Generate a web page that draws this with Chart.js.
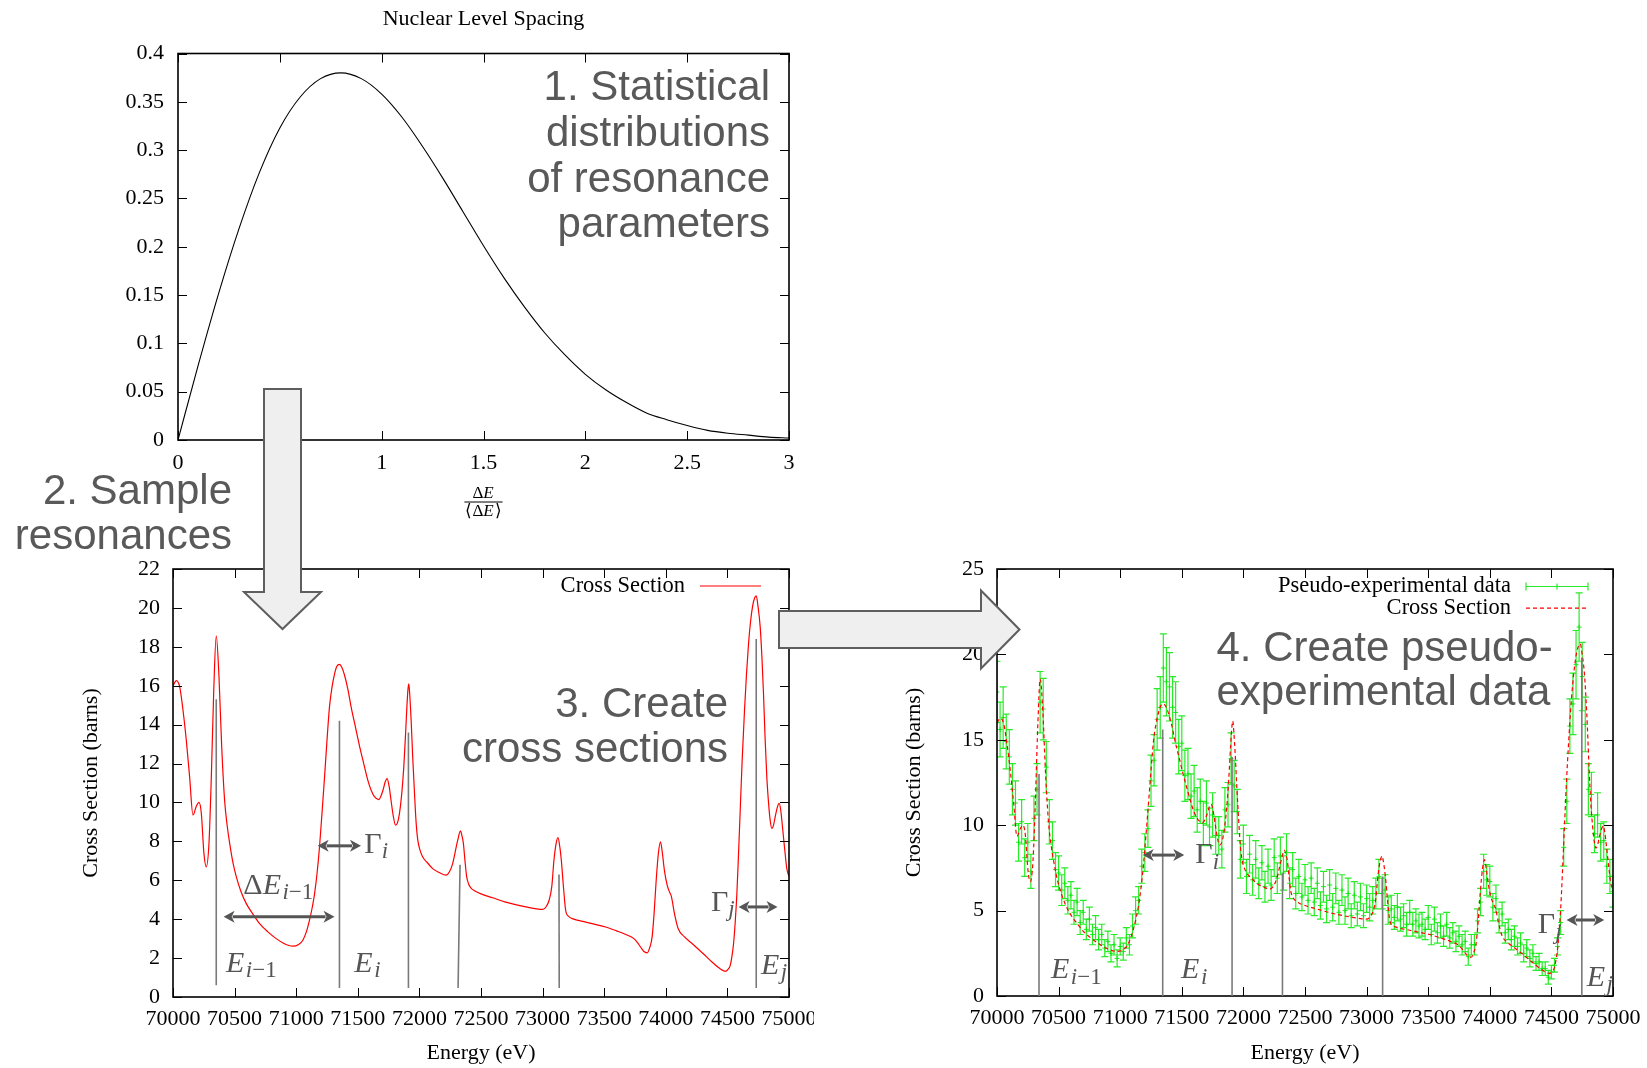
<!DOCTYPE html>
<html>
<head>
<meta charset="utf-8">
<title>Resonance sampling workflow</title>
<script src="https://cdn.jsdelivr.net/npm/chart.js@4.4.1/dist/chart.umd.min.js"></script>
<style>
  html, body { margin: 0; padding: 0; background: #fff; }
  body { position: relative; width: 1647px; height: 1068px; overflow: hidden; }
  canvas { position: absolute; }
  #overlay { position: absolute; left: 0; top: 0; pointer-events: none; }
</style>
</head>
<body>
<canvas id="spacing" width="720" height="520" style="left:100px;top:0"></canvas>
<canvas id="xsec" width="774" height="528" style="left:40px;top:540px"></canvas>
<canvas id="pseudo" width="767" height="528" style="left:880px;top:540px"></canvas>

<svg id="overlay" width="1647" height="1068" xmlns="http://www.w3.org/2000/svg">
  <g fill="#efefef" stroke="#5e5e5e" stroke-width="2" stroke-linejoin="miter">
    <polygon points="264,389 301,389 301,592 321,592 282.5,629 244,592 264,592"/>
    <polygon points="779,611 981,611 981,590.5 1019.5,629.5 981,668.5 981,648 779,648"/>
  </g>
  <g font-family="'Liberation Sans', Arial, sans-serif" font-size="42" fill="#595959">
    <text x="770" y="100" text-anchor="end">1. Statistical</text>
    <text x="770" y="146" text-anchor="end">distributions</text>
    <text x="770" y="191.5" text-anchor="end">of resonance</text>
    <text x="770" y="237" text-anchor="end">parameters</text>
    <text x="232" y="504" text-anchor="end">2. Sample</text>
    <text x="232" y="548.5" text-anchor="end">resonances</text>
    <text x="728" y="716.5" text-anchor="end">3. Create</text>
    <text x="728" y="761.5" text-anchor="end">cross sections</text>
    <text x="1216.5" y="660.5">4. Create pseudo-</text>
    <text x="1216.5" y="705">experimental data</text>
  </g>
</svg>

<script>
// ---- panel 1: nuclear level spacing distribution ----
const spacingX = [0, 0.1, 0.2, 0.3, 0.4, 0.5, 0.6, 0.7, 0.8, 0.9, 1.0,
  1.1, 1.2, 1.3, 1.4, 1.5, 1.6, 1.7, 1.8, 1.9, 2.0,
  2.1, 2.2, 2.3, 2.4, 2.5, 2.6, 2.7, 2.8, 2.9, 3.0];
const spacingP = [0, 0.078, 0.152, 0.219, 0.277, 0.323, 0.355, 0.374, 0.380, 0.374, 0.358,
  0.334, 0.304, 0.271, 0.236, 0.201, 0.168, 0.138, 0.111, 0.088, 0.068,
  0.052, 0.039, 0.028, 0.021, 0.015, 0.010, 0.007, 0.005, 0.003, 0.002];

// ---- panel 3: cross section (eV, barns) ----
const xsEnergy = [
  70000, 70027, 70054, 70081, 70108, 70135, 70162, 70189, 70211, 70230,
  70251, 70270, 70292, 70311, 70330, 70351, 70373, 70395, 70419, 70440,
  70460, 70490, 70513, 70550, 70595, 70650, 70703, 70770, 70838, 70900,
  70973, 71020, 71054, 71085, 71108, 71130, 71149, 71170, 71189, 71210,
  71230, 71250, 71270, 71290, 71311, 71330, 71351, 71370, 71392, 71420,
  71446, 71480, 71514, 71550, 71581, 71610, 71635, 71670, 71703, 71722,
  71738, 71755, 71770, 71788, 71806, 71822, 71838, 71856, 71873, 71886,
  71897, 71907, 71914, 71922, 71933, 71946, 71960, 71973, 71987, 72005,
  72027, 72065, 72108, 72160, 72216, 72245, 72270, 72292, 72311, 72333,
  72345, 72357, 72370, 72384, 72400, 72419, 72450, 72500, 72595, 72700,
  72865, 72950, 73000, 73030, 73054, 73075, 73092, 73110, 73125, 73140,
  73152, 73170, 73187, 73210, 73241, 73350, 73511, 73600, 73680, 73741,
  73770, 73795, 73820, 73849, 73870, 73889, 73905, 73922, 73940, 73957,
  73972, 73989, 74011, 74030, 74046, 74070, 74100, 74150, 74213, 74300,
  74375, 74430, 74483, 74505, 74523, 74537, 74550, 74563, 74577, 74590,
  74604, 74620, 74639, 74655, 74672, 74688, 74704, 74720, 74734, 74750,
  74766, 74780, 74793, 74806, 74820, 74835, 74847, 74861, 74875, 74888,
  74905, 74920, 74933, 74947, 74965, 74982, 75000];
const xsValue = [
  16.0, 16.26, 15.95, 14.75, 13.2, 11.3, 9.35, 9.8, 10.0, 9.43,
  7.38, 6.69, 7.9, 11.3, 15.6, 18.56, 16.5, 12.9, 10.1, 8.8,
  7.9, 6.8, 6.2, 5.45, 4.8, 4.25, 3.77, 3.35, 3.0, 2.75,
  2.61, 2.7, 2.92, 3.4, 3.95, 4.6, 5.3, 6.4, 7.7, 9.5,
  11.3, 13.2, 14.9, 15.9, 16.6, 17.0, 17.1, 16.95, 16.55, 15.8,
  14.9, 13.9, 12.9, 11.95, 11.15, 10.6, 10.3, 10.15, 10.6, 11.05,
  11.23, 10.8, 10.1, 9.3, 8.83, 8.95, 9.43, 10.4, 11.8, 13.3,
  14.75, 15.8, 16.1, 15.5, 14.2, 12.3, 10.5, 9.0, 8.06, 7.55,
  7.2, 6.9, 6.6, 6.4, 6.26, 6.45, 6.86, 7.5, 8.06, 8.54,
  8.3, 7.9, 7.0, 6.17, 5.8, 5.6, 5.45, 5.3, 5.1, 4.88,
  4.63, 4.53, 4.5, 4.65, 5.0, 5.7, 7.03, 7.9, 8.19, 7.7,
  7.03, 5.6, 4.46, 4.15, 4.03, 3.85, 3.6, 3.4, 3.2, 3.0,
  2.8, 2.57, 2.35, 2.27, 2.55, 3.09, 4.3, 6.0, 7.4, 7.98,
  7.4, 6.5, 5.75, 5.4, 5.15, 4.3, 3.52, 3.1, 2.75, 2.25,
  1.8, 1.5, 1.32, 1.42, 1.63, 2.1, 2.75, 3.8, 5.32, 7.3,
  9.6, 12.2, 14.75, 16.6, 18.2, 19.3, 20.07, 20.5, 20.62, 20.0,
  19.04, 17.5, 15.6, 13.3, 11.3, 9.9, 9.09, 8.66, 8.85, 9.26,
  9.75, 9.95, 9.6, 8.75, 7.6, 6.61, 6.2];

// ---- panel 4: pseudo-experimental points (eV, barns, +/- barns) ----
const expEnergy = [
  70000, 70025, 70050, 70075, 70100, 70125, 70150, 70175,
  70200, 70225, 70250, 70275, 70300, 70325, 70350, 70375,
  70400, 70425, 70450, 70475, 70500, 70525, 70550, 70575,
  70600, 70625, 70650, 70675, 70700, 70725, 70750, 70775,
  70800, 70825, 70850, 70875, 70900, 70925, 70950, 70975,
  71000, 71025, 71050, 71075, 71100, 71125, 71150, 71175,
  71200, 71225, 71250, 71275, 71300, 71325, 71350, 71375,
  71400, 71425, 71450, 71475, 71500, 71525, 71550, 71575,
  71600, 71625, 71650, 71675, 71700, 71725, 71750, 71775,
  71800, 71825, 71850, 71875, 71900, 71925, 71950, 71975,
  72000, 72025, 72050, 72075, 72100, 72125, 72150, 72175,
  72200, 72225, 72250, 72275, 72300, 72325, 72350, 72375,
  72400, 72425, 72450, 72475, 72500, 72525, 72550, 72575,
  72600, 72625, 72650, 72675, 72700, 72725, 72750, 72775,
  72800, 72825, 72850, 72875, 72900, 72925, 72950, 72975,
  73000, 73025, 73050, 73075, 73100, 73125, 73150, 73175,
  73200, 73225, 73250, 73275, 73300, 73325, 73350, 73375,
  73400, 73425, 73450, 73475, 73500, 73525, 73550, 73575,
  73600, 73625, 73650, 73675, 73700, 73725, 73750, 73775,
  73800, 73825, 73850, 73875, 73900, 73925, 73950, 73975,
  74000, 74025, 74050, 74075, 74100, 74125, 74150, 74175,
  74200, 74225, 74250, 74275, 74300, 74325, 74350, 74375,
  74400, 74425, 74450, 74475, 74500, 74525, 74550, 74575,
  74600, 74625, 74650, 74675, 74700, 74725, 74750, 74775,
  74800, 74825, 74850, 74875, 74900, 74925, 74950, 74975,
  75000];
const expValue = [
  17.8, 15.6, 16.3, 14.9, 14.0, 12.1, 11.3, 9.0,
  10.2, 8.1, 9.0, 7.3, 10.4, 12.1, 17.2, 16.8,
  13.4, 10.2, 9.1, 7.4, 7.2, 6.2, 6.6, 5.6,
  5.9, 4.9, 5.5, 4.3, 4.9, 3.9, 4.5, 3.6,
  4.0, 3.3, 3.6, 2.8, 3.2, 2.5, 3.0, 2.2,
  2.9, 2.6, 3.4, 3.0, 4.1, 5.0, 5.6, 7.6,
  8.4, 9.8, 12.6, 13.8, 16.2, 16.9, 19.2, 18.4,
  18.1, 16.9, 16.6, 14.6, 14.8, 12.9, 13.0, 11.7,
  12.0, 10.9, 11.4, 10.1, 11.3, 9.9, 10.6, 9.4,
  9.4, 8.6, 10.9, 11.2, 13.9, 12.3, 10.8, 8.0,
  8.9, 7.0, 8.3, 6.8, 8.0, 6.6, 7.8, 6.4,
  7.6, 6.5, 8.1, 6.9, 8.2, 7.2, 8.4, 6.6,
  7.4, 6.0, 7.0, 5.8, 6.8, 5.6, 6.9, 5.5,
  6.6, 5.3, 6.4, 5.1, 6.5, 5.2, 6.3, 4.9,
  6.2, 5.0, 6.0, 4.7, 5.9, 4.8, 5.8, 4.7,
  5.7, 5.2, 5.6, 6.0, 7.0, 6.0, 6.2, 5.0,
  5.1, 4.6, 5.2, 4.5, 4.7, 4.2, 4.9, 4.2,
  4.4, 4.1, 4.2, 3.9, 4.6, 3.6, 4.5, 3.7,
  4.1, 3.5, 4.2, 3.4, 3.7, 3.2, 3.5, 3.0,
  3.2, 2.3, 3.0, 3.0, 4.4, 5.5, 7.3, 6.8,
  6.7, 5.2, 5.7, 4.4, 4.8, 3.7, 3.9, 3.3,
  3.5, 2.9, 3.1, 2.5, 2.8, 2.2, 2.5, 1.9,
  2.0, 1.6, 1.6, 1.1, 1.4, 1.8, 2.9, 4.3,
  8.7, 11.4, 15.8, 17.1, 19.4, 21.6, 18.7, 15.9,
  12.1, 11.8, 9.5, 10.6, 9.0, 9.1, 7.6, 7.0,
  6.1];
const expError = [
  1.8, 1.6, 1.8, 1.6, 1.6, 1.5, 1.3, 1.1,
  1.3, 1.1, 1.1, 1.0, 1.3, 1.5, 1.8, 1.8,
  1.5, 1.3, 1.1, 1.0, 1.0, 0.9, 0.9, 0.8,
  0.8, 0.7, 0.8, 0.7, 0.7, 0.6, 0.7, 0.6,
  0.7, 0.6, 0.6, 0.5, 0.6, 0.5, 0.6, 0.5,
  0.5, 0.5, 0.6, 0.6, 0.7, 0.8, 0.8, 1.0,
  1.1, 1.1, 1.5, 1.5, 1.8, 1.8, 2.0, 2.0,
  2.0, 1.8, 1.8, 1.6, 1.6, 1.5, 1.5, 1.3,
  1.5, 1.3, 1.3, 1.3, 1.3, 1.1, 1.3, 1.1,
  1.1, 1.1, 1.3, 1.3, 1.5, 1.5, 1.3, 1.1,
  1.1, 1.0, 1.1, 0.9, 1.1, 0.9, 1.0, 0.9,
  1.0, 0.9, 1.1, 0.9, 1.1, 1.0, 1.1, 0.9,
  1.0, 0.9, 1.0, 0.8, 0.9, 0.8, 0.9, 0.8,
  0.9, 0.8, 0.9, 0.8, 0.9, 0.8, 0.9, 0.7,
  0.9, 0.8, 0.9, 0.7, 0.8, 0.7, 0.8, 0.7,
  0.8, 0.8, 0.8, 0.9, 1.0, 0.9, 0.9, 0.8,
  0.8, 0.7, 0.8, 0.7, 0.7, 0.7, 0.7, 0.7,
  0.7, 0.7, 0.7, 0.6, 0.7, 0.6, 0.7, 0.6,
  0.7, 0.6, 0.7, 0.6, 0.6, 0.6, 0.6, 0.6,
  0.6, 0.5, 0.6, 0.6, 0.7, 0.8, 1.0, 0.9,
  0.9, 0.8, 0.8, 0.7, 0.7, 0.6, 0.6, 0.6,
  0.6, 0.5, 0.6, 0.5, 0.5, 0.5, 0.5, 0.4,
  0.5, 0.4, 0.4, 0.4, 0.4, 0.4, 0.5, 0.7,
  1.1, 1.3, 1.6, 1.8, 2.0, 2.0, 2.0, 1.6,
  1.5, 1.3, 1.1, 1.3, 1.1, 1.1, 1.0, 1.0,
  0.9];

// resonance markers: [E bottom, sigma bottom, E top, sigma top]
const resLinesXs = [[70351, 0.6, 70351, 15.3], [71351, 0.46, 71351, 14.2], [71911, 0.46, 71911, 13.6],
  [72314, 0.46, 72330, 6.8], [73135, 0.46, 73133, 6.3], [74734, 0.46, 74734, 18.4]];
const resLinesExp = [[70341, 0, 70341, 13], [71345, 0, 71345, 15.6], [71908, 0, 71908, 14],
  [72317, 0, 72317, 7.2], [73130, 0, 73130, 7.0], [74747, 0, 74747, 19.8]];

// math labels: [text, style]  r roman, i italic, s* subscript
const E_IM1 = [['E', 'i'], ['i', 'si'], ['\u22121', 'sr']];
const E_I = [['E', 'i'], ['i', 'si']];
const E_J = [['E', 'i'], ['j', 'si']];
const DE_IM1 = [['\u0394', 'r'], ['E', 'i'], ['i', 'si'], ['\u22121', 'sr']];
const G_I = [['\u0393', 'r'], ['i', 'si']];
const G_J = [['\u0393', 'r'], ['j', 'si']];

const SERIF = '"Liberation Serif", "Times New Roman", serif';
const NOTE = '#555555';
const GREEN = 'rgba(0,232,0,0.85)';

Chart.defaults.font.family = SERIF;
Chart.defaults.font.size = 22;
Chart.defaults.color = '#000';

function mathWidth(ctx, parts, size) {
  let w = 0;
  parts.forEach(([t, s]) => {
    const sub = s[0] === 's', it = s[s.length - 1] === 'i';
    ctx.font = (it ? 'italic ' : '') + (sub ? Math.round(size * 0.78) : size) + 'px ' + SERIF;
    w += ctx.measureText(t).width + (it && !sub ? size * 0.05 : 0);
  });
  return w;
}

function drawMath(ctx, x, y, parts, size) {
  let cx = x;
  ctx.textAlign = 'left';
  ctx.textBaseline = 'alphabetic';
  parts.forEach(([t, s]) => {
    const sub = s[0] === 's', it = s[s.length - 1] === 'i';
    ctx.font = (it ? 'italic ' : '') + (sub ? Math.round(size * 0.78) : size) + 'px ' + SERIF;
    ctx.fillText(t, cx, sub ? y + size * 0.18 : y);
    cx += ctx.measureText(t).width + (it && !sub ? size * 0.05 : 0);
  });
}

function dblArrow(ctx, x1, x2, y) {
  const hl = 11, hw = 6;
  ctx.lineWidth = 3;
  ctx.beginPath();
  ctx.moveTo(x1 + hl - 2, y); ctx.lineTo(x2 - hl + 2, y);
  ctx.stroke();
  ctx.beginPath();
  ctx.moveTo(x1, y); ctx.lineTo(x1 + hl, y - hw); ctx.lineTo(x1 + hl - 3, y); ctx.lineTo(x1 + hl, y + hw); ctx.closePath();
  ctx.moveTo(x2, y); ctx.lineTo(x2 - hl, y - hw); ctx.lineTo(x2 - hl + 3, y); ctx.lineTo(x2 - hl, y + hw); ctx.closePath();
  ctx.fill();
}

// gnuplot style border with inward ticks on all four sides
const gnuFrame = {
  id: 'gnuFrame',
  afterDatasetsDraw(chart) {
    const {ctx, chartArea: a, scales: {x, y}} = chart;
    ctx.save();
    ctx.strokeStyle = '#000';
    ctx.lineWidth = 1;
    ctx.beginPath();
    x.ticks.forEach(t => {
      const px = Math.round(x.getPixelForValue(t.value)) + 0.5;
      ctx.moveTo(px, a.bottom); ctx.lineTo(px, a.bottom - 9);
      ctx.moveTo(px, a.top); ctx.lineTo(px, a.top + 9);
    });
    y.ticks.forEach(t => {
      const py = Math.round(y.getPixelForValue(t.value)) + 0.5;
      ctx.moveTo(a.left, py); ctx.lineTo(a.left + 9, py);
      ctx.moveTo(a.right, py); ctx.lineTo(a.right - 9, py);
    });
    ctx.stroke();
    ctx.lineWidth = 1.6;
    ctx.strokeRect(a.left, a.top, a.right - a.left, a.bottom - a.top);
    ctx.restore();
  }
};

// vertical error bars, drawn right after their own dataset
const errorBars = {
  id: 'errorBars',
  afterDatasetDraw(chart, args) {
    const ds = chart.data.datasets[args.index];
    if (!ds.errors) return;
    const {ctx, chartArea: a, scales: {x, y}} = chart;
    ctx.save();
    ctx.beginPath();
    ctx.rect(a.left, a.top, a.right - a.left, a.bottom - a.top);
    ctx.clip();
    ctx.strokeStyle = ds.borderColor;
    ctx.lineWidth = 1.2;
    ctx.beginPath();
    ds.data.forEach((p, i) => {
      const px = x.getPixelForValue(p.x);
      const lo = y.getPixelForValue(p.y - ds.errors[i]);
      const hi = y.getPixelForValue(p.y + ds.errors[i]);
      ctx.moveTo(px, lo); ctx.lineTo(px, hi);
      ctx.moveTo(px - 3.5, lo); ctx.lineTo(px + 3.5, lo);
      ctx.moveTo(px - 3.5, hi); ctx.lineTo(px + 3.5, hi);
    });
    ctx.stroke();
    ctx.restore();
  }
};

function notesPlugin(cfg) {
  return {
    id: 'notes',
    afterDraw(chart) {
      const {ctx, chartArea: a, scales: {x, y}} = chart;
      ctx.save();
      ctx.strokeStyle = '#7a7a7a';
      ctx.lineWidth = 1.6;
      (cfg.lines || []).forEach(([e0, v0, e1, v1]) => {
        ctx.beginPath();
        ctx.moveTo(x.getPixelForValue(e0), y.getPixelForValue(v0));
        ctx.lineTo(x.getPixelForValue(e1), y.getPixelForValue(v1));
        ctx.stroke();
      });
      ctx.strokeStyle = NOTE;
      ctx.fillStyle = NOTE;
      (cfg.arrows || []).forEach(([e0, e1, v]) =>
        dblArrow(ctx, x.getPixelForValue(e0), x.getPixelForValue(e1), y.getPixelForValue(v)));
      (cfg.labels || []).forEach(([e, v, parts]) =>
        drawMath(ctx, x.getPixelForValue(e), y.getPixelForValue(v), parts, 30));

      // key, gnuplot style: text right aligned, sample to the right
      ctx.font = '22.5px ' + SERIF;
      ctx.textAlign = 'right';
      ctx.textBaseline = 'middle';
      (cfg.key || []).forEach((k, i) => {
        const ky = a.top + cfg.keyTop + i * 21.6;
        const x0 = a.right - cfg.keyFrom, x1 = a.right - cfg.keyTo;
        ctx.fillStyle = '#000';
        ctx.fillText(k.text, a.right - cfg.keyText, ky);
        ctx.strokeStyle = k.color;
        ctx.lineWidth = k.width;
        ctx.setLineDash(k.dash || []);
        ctx.beginPath();
        ctx.moveTo(x0, ky); ctx.lineTo(x1, ky);
        if (k.bars) {
          const xm = (x0 + x1) / 2;
          ctx.moveTo(x0, ky - 4); ctx.lineTo(x0, ky + 4);
          ctx.moveTo(x1, ky - 4); ctx.lineTo(x1, ky + 4);
          ctx.moveTo(xm, ky - 3); ctx.lineTo(xm, ky + 3);
        }
        ctx.stroke();
        ctx.setLineDash([]);
      });

      if (cfg.title) {
        ctx.fillStyle = '#000';
        ctx.font = '22px ' + SERIF;
        ctx.textAlign = 'center';
        ctx.textBaseline = 'middle';
        ctx.fillText(cfg.title, (a.left + a.right) / 2, 19);
      }
      if (cfg.fraction) {
        // x label as a stacked fraction  dE / <dE>
        const cx = (a.left + a.right) / 2;
        const fs = 17;
        ctx.fillStyle = '#000';
        const num = [['\u0394', 'r'], ['E', 'i']];
        const den = [['\u27E8\u0394', 'r'], ['E', 'i'], ['\u27E9', 'r']];
        const wn = mathWidth(ctx, num, fs), wd = mathWidth(ctx, den, fs);
        drawMath(ctx, cx - wn / 2, a.bottom + 58, num, fs);
        ctx.strokeStyle = '#000';
        ctx.lineWidth = 1;
        ctx.beginPath();
        ctx.moveTo(cx - wd / 2 - 1, a.bottom + 62);
        ctx.lineTo(cx + wd / 2 + 1, a.bottom + 62);
        ctx.stroke();
        drawMath(ctx, cx - wd / 2, a.bottom + 76, den, fs);
      }
      ctx.restore();
    }
  };
}

function linAxis(min, max, step, fit, pad, title) {
  const isY = fit.width !== undefined;
  return {
    type: 'linear',
    position: isY ? 'left' : 'bottom',
    min: min, max: max,
    grid: {display: false, drawTicks: false},
    border: {display: false},
    ticks: {
      stepSize: step, padding: pad, autoSkip: false, maxRotation: 0, minRotation: 0,
      font: {size: 22, family: SERIF}, color: '#000',
      callback: v => String(parseFloat(Number(v).toFixed(3)))
    },
    title: title ? {display: true, text: title, color: '#000', font: {size: 22, family: SERIF},
      padding: isY ? {top: fit.titleGap, bottom: 0} : {top: 0, bottom: fit.titleGap}} : {display: false},
    afterFit: s => {
      if (isY) { s.width = fit.width; s.paddingTop = 0; s.paddingBottom = 0; }
      else { s.height = fit.height; s.paddingLeft = 0; s.paddingRight = 0; }
    }
  };
}

const baseOpts = {
  responsive: false,
  animation: false,
  events: [],
  plugins: {legend: {display: false}, tooltip: {enabled: false}, title: {display: false}}
};

// panel 1
new Chart(document.getElementById('spacing'), {
  type: 'scatter',
  data: {
    datasets: [{
      data: spacingX.map((v, i) => ({x: v, y: spacingP[i]})),
      showLine: true, borderColor: '#000', borderWidth: 1.1, pointRadius: 0,
      cubicInterpolationMode: 'monotone'
    }]
  },
  options: Object.assign({}, baseOpts, {
    layout: {padding: {top: 53.5, right: 31, bottom: 0, left: 0}},
    scales: {
      x: linAxis(0, 3, 0.5, {height: 80}, 10, null),
      y: linAxis(0, 0.4, 0.05, {width: 78}, 14, null)
    }
  }),
  plugins: [gnuFrame, notesPlugin({title: 'Nuclear Level Spacing', fraction: true})]
});

// panel 3
new Chart(document.getElementById('xsec'), {
  type: 'scatter',
  data: {
    datasets: [{
      data: xsEnergy.map((e, i) => ({x: e, y: xsValue[i]})),
      showLine: true, borderColor: '#ff0000', borderWidth: 1.2, pointRadius: 0,
      cubicInterpolationMode: 'monotone'
    }]
  },
  options: Object.assign({}, baseOpts, {
    layout: {padding: {top: 29, right: 25, bottom: 0, left: 0}},
    scales: {
      x: linAxis(70000, 75000, 500, {height: 71, titleGap: 2}, 9, 'Energy (eV)'),
      y: linAxis(0, 22, 2, {width: 133, titleGap: 38}, 13, 'Cross Section (barns)')
    }
  }),
  plugins: [gnuFrame, notesPlugin({
    lines: resLinesXs,
    arrows: [[70411, 71311, 4.12], [71174, 71526, 7.77], [74591, 74907, 4.63]],
    labels: [[70430, 1.29, E_IM1], [71472, 1.29, E_I], [70571, 5.32, DE_IM1],
      [71553, 7.41, G_I], [74367, 4.43, G_J], [74773, 1.2, E_J]],
    key: [{text: 'Cross Section', color: '#ff0000', width: 1.2}],
    keyTop: 17, keyText: 104, keyFrom: 89, keyTo: 28
  })]
});

// panel 4
new Chart(document.getElementById('pseudo'), {
  type: 'scatter',
  data: {
    datasets: [{
      data: xsEnergy.map((e, i) => ({x: e, y: xsValue[i]})),
      showLine: true, borderColor: '#ff0000', borderWidth: 1.2, borderDash: [4, 3], pointRadius: 0,
      cubicInterpolationMode: 'monotone'
    }, {
      data: expEnergy.map((e, i) => ({x: e, y: expValue[i]})),
      errors: expError,
      showLine: false, borderColor: GREEN, backgroundColor: GREEN,
      pointStyle: 'cross', pointRadius: 2.5, borderWidth: 1
    }]
  },
  options: Object.assign({}, baseOpts, {
    layout: {padding: {top: 29, right: 34, bottom: 0, left: 0}},
    scales: {
      x: linAxis(70000, 75000, 500, {height: 72, titleGap: 2}, 9, 'Energy (eV)'),
      y: linAxis(0, 25, 5, {width: 117, titleGap: 21}, 13, 'Cross Section (barns)')
    }
  }),
  plugins: [errorBars, gnuFrame, notesPlugin({
    lines: resLinesExp,
    arrows: [[71183, 71520, 8.25], [74623, 74929, 4.45]],
    labels: [[70438, 1.04, E_IM1], [71494, 1.04, E_I], [71610, 7.77, G_I],
      [74390, 3.66, G_J], [74787, 0.6, E_J]],
    key: [{text: 'Pseudo-experimental data', color: GREEN, width: 1.2, bars: true},
      {text: 'Cross Section', color: '#ff0000', width: 1.2, dash: [4, 3]}],
    keyTop: 17.5, keyText: 102, keyFrom: 87, keyTo: 25
  })]
});
</script>
</body>
</html>
